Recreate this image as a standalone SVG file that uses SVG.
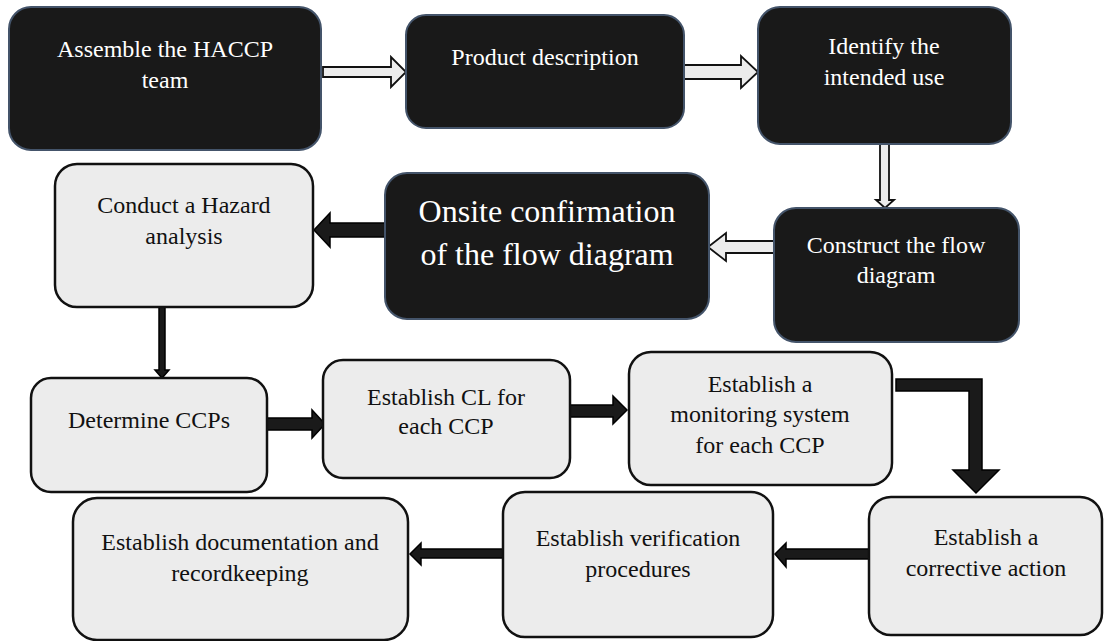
<svg xmlns="http://www.w3.org/2000/svg" width="1104" height="641" viewBox="0 0 1104 641">
<style>
.dark rect{fill:#191919;stroke:#44546a;stroke-width:2}
.light rect{fill:#ececec;stroke:#111;stroke-width:2.5}
text{font-family:"Liberation Serif",serif;font-size:24px;text-anchor:middle}
text.big{font-size:32px}
.dark text{fill:#ffffff}
.light text{fill:#111111}
.hollow{fill:#ececec;stroke:#111;stroke-width:1.8;stroke-linejoin:miter}
.solid{fill:#1a1a1a;stroke:#000;stroke-width:1.5;stroke-linejoin:miter}
</style>
<rect width="1104" height="641" fill="#ffffff"/>
<g id="connectors">
<polygon class="hollow" points="323,67 391,67 391,57 406,72 391,87 391,77 323,77"/>
<polygon class="hollow" points="684,65 741,65 741,56 758,72 741,88 741,79 684,79"/>
<polygon class="hollow" points="880,144 889,144 889,200 894,200 885,208 876,200 880,200"/>
<polygon class="hollow" points="774,241 726,241 726,233 708,247 726,261 726,253 774,253"/>
<polygon class="solid" points="385,223 330,223 330,213 314,230 330,247 330,237 385,237"/>
<polygon class="solid" points="159,307 165,307 165,370 169,370 162,378 155,370 159,370"/>
<polygon class="solid" points="267,418 312,418 312,410 325,424 312,438 312,430 267,430"/>
<polygon class="solid" points="570,405 613,405 613,396 627,410 613,424 613,417 570,417"/>
<polygon class="solid" points="896,379 982,379 982,470 999,470 976,493 953,470 969,470 969,391 896,391"/>
<polygon class="solid" points="869,549 786,549 786,543 775,554 786,567 786,559 869,559"/>
<polygon class="solid" points="503,549 421,549 421,543 410,554 421,565 421,558 503,558"/>
</g>
<g id="n1" class="dark"><rect x="9" y="7" width="312" height="143" rx="22"/><text x="165" y="57">Assemble the HACCP</text><text x="165" y="88">team</text></g>
<g id="n2" class="dark"><rect x="406" y="15" width="278" height="113" rx="20"/><text x="545" y="65">Product description</text></g>
<g id="n3" class="dark"><rect x="758" y="7" width="253" height="137" rx="22"/><text x="884" y="54">Identify the</text><text x="884" y="85">intended use</text></g>
<g id="n4" class="dark"><rect x="774" y="208" width="245" height="134" rx="22"/><text x="896" y="253">Construct the flow</text><text x="896" y="283">diagram</text></g>
<g id="n5" class="dark"><rect x="385" y="173" width="324" height="146" rx="22"/><text class="big" x="547" y="222">Onsite confirmation</text><text class="big" x="547" y="265">of the flow diagram</text></g>
<g id="n6" class="light"><rect x="55" y="164" width="258" height="143" rx="22"/><text x="184" y="213">Conduct a Hazard</text><text x="184" y="244">analysis</text></g>
<g id="n7" class="light"><rect x="31" y="378" width="236" height="114" rx="20"/><text x="149" y="428">Determine CCPs</text></g>
<g id="n8" class="light"><rect x="323" y="360" width="247" height="118" rx="20"/><text x="446" y="405">Establish CL for</text><text x="446" y="434">each CCP</text></g>
<g id="n9" class="light"><rect x="629" y="352" width="263" height="133" rx="22"/><text x="760" y="392">Establish a</text><text x="760" y="422">monitoring system</text><text x="760" y="453">for each CCP</text></g>
<g id="n10" class="light"><rect x="869" y="497" width="233" height="138" rx="22"/><text x="986" y="545">Establish a</text><text x="986" y="576">corrective action</text></g>
<g id="n11" class="light"><rect x="503" y="492" width="270" height="145" rx="22"/><text x="638" y="546">Establish verification</text><text x="638" y="577">procedures</text></g>
<g id="n12" class="light"><rect x="73" y="498" width="335" height="142" rx="24"/><text x="240" y="550">Establish documentation and</text><text x="240" y="581">recordkeeping</text></g>
</svg>
